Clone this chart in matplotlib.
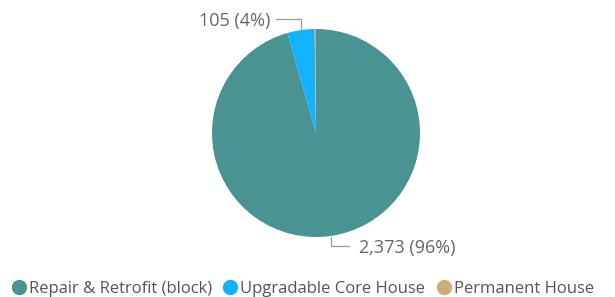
import matplotlib.pyplot as plt
import numpy as np

categories = ["Repair & Retrofit (block)", "Upgradable Core House", "Permanent House"]
values = [2373, 105, 5]
colors = ["#4A9393", "#12B2FF", "#C9AE78"]

plt.rcParams["font.family"] = ["Open Sans", "DejaVu Sans"]

W, H = 615, 297
fig = plt.figure(figsize=(W / 100, H / 100), dpi=100)
cx, cy, r = 316, 133, 104
ax = fig.add_axes([(cx - r) / W, (H - cy - r) / H, 2 * r / W, 2 * r / H])

wedges, _ = ax.pie(values, colors=colors, startangle=90, counterclock=False,
                   wedgeprops=dict(linewidth=0))
ax.set_xlim(-1, 1)
ax.set_ylim(-1, 1)
ax.set_aspect("equal")
ax.axis("off")

total = sum(values)
grey = "#999999"
text_col = "#666666"


def label(i, dx, dy, text, ha, gap):
    w = wedges[i]
    ang = np.deg2rad((w.theta1 + w.theta2) / 2)
    x0, y0 = np.cos(ang) * 1.01, np.sin(ang) * 1.01
    y1 = y0 + dy
    x1 = x0 + dx
    ax.plot([x0, x0, x1], [y0, y1, y1], color=grey, lw=0.9, clip_on=False)
    ax.text(x1 + gap, y1 - 0.02, text, ha=ha, va="center",
            fontsize=13, color=text_col, clip_on=False)


pct = [v / total * 100 for v in values]
label(1, -0.24, 0.10, f"{values[1]:,} ({pct[1]:.0f}%)", "right", -0.05)
label(0, 0.18, -0.09, f"{values[0]:,} ({pct[0]:.0f}%)", "left", 0.09)

handles = [plt.Line2D([], [], marker="o", ls="", markersize=10, color=c) for c in colors]
fig.legend(handles, categories, loc="lower center", bbox_to_anchor=(0.49, -0.05),
           ncol=3, frameon=False, fontsize=12, labelcolor="#555555",
           handletextpad=0.0, columnspacing=0.5, handlelength=1.2)

fig.savefig("out.png", dpi=100)
